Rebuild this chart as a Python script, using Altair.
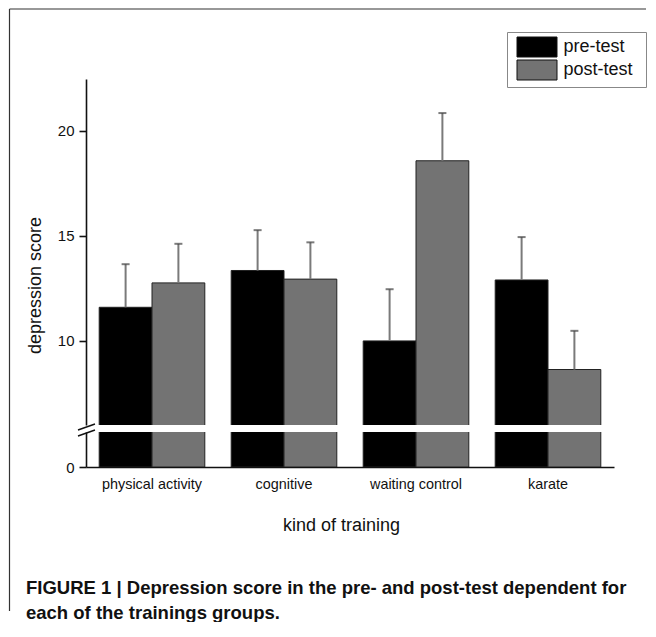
import altair as alt
import pandas as pd

# ---- data ----
groups = ["physical activity", "cognitive", "waiting control", "karate"]
tests = ["pre-test", "post-test"]
pre_means = [11.6, 13.35, 10.0, 12.9]
pre_err = [2.05, 1.92, 2.46, 2.04]
post_means = [12.76, 12.94, 18.57, 8.64]
post_err = [1.86, 1.75, 2.27, 1.84]
bar_colors = ["#000000", "#737373"]
upper_ticks = [10, 15, 20]
lower_ticks = [0]
caption_lines = [
    "FIGURE 1 | Depression score in the pre- and post-test dependent for",
    "each of the trainings groups.",
]

rows = []
for g, m, e in zip(groups, pre_means, pre_err):
    rows.append({"group": g, "test": "pre-test", "mean": m, "upper": m + e})
for g, m, e in zip(groups, post_means, post_err):
    rows.append({"group": g, "test": "post-test", "mean": m, "upper": m + e})
df = pd.DataFrame(rows)

FONT = "Liberation Sans"
W = 528
H_TOP = 346
H_BOT = 35
GAP = 7
AX = "#111111"

x_enc = alt.X("group:N", sort=groups,
              scale=alt.Scale(paddingInner=0.2, paddingOuter=0.1))
xoff = alt.XOffset("test:N", sort=tests,
                   scale=alt.Scale(domain=tests, paddingInner=0, paddingOuter=0))

legend = alt.Legend(
    orient="none", legendX=421, legendY=-47, title=None,
    symbolType="M-2,-1H2V1H-2Z", symbolSize=400, symbolOffset=15,
    symbolStrokeColor="#111111", symbolStrokeWidth=1, symbolOpacity=1,
    labelFont=FONT, labelFontSize=18, labelColor="#111111", labelOffset=16,
    labelExpr="datum.label + '\u00a0\u2009\u200b'",
    strokeColor="#888888", fillColor="white", padding=4.5, rowPadding=-3,
)
color_top = alt.Color("test:N", sort=tests,
                      scale=alt.Scale(domain=tests, range=bar_colors), legend=legend)
color_bot = alt.Color("test:N", sort=tests,
                      scale=alt.Scale(domain=tests, range=bar_colors), legend=None)

base = alt.Chart(df)

# ---------- upper panel (6 .. 22.46) ----------
y_top = alt.Y("mean:Q", scale=alt.Scale(domain=[6, 22.46], zero=False, nice=False),
              axis=alt.Axis(values=upper_ticks, grid=False, tickSize=7, tickWidth=1.6,
                            tickColor=AX, domainColor=AX, domainWidth=1.6,
                            labelFontSize=15, labelColor="#111111", labelPadding=5,
                            title="depression score", titleFontSize=18,
                            titleFontWeight="normal", titleColor="#111111",
                            titleX=-51, titleY=206, titleBaseline="middle",
                            titleAngle=-90, titleAlign="center"))

bars_top = base.mark_bar(clip=True, stroke="#222222", strokeWidth=1).encode(
    x=x_enc.axis(None), xOffset=xoff, y=y_top, y2=alt.datum(0), color=color_top)

err_stem = base.mark_rule(color="#7a7a7a", strokeWidth=2).encode(
    x=x_enc.axis(None), xOffset=xoff, y="mean:Q", y2="upper:Q")
err_cap = base.mark_tick(color="#444444", thickness=2, size=8).encode(
    x=x_enc.axis(None), xOffset=xoff, y="upper:Q")

one = pd.DataFrame({"k": [0]})
slash1 = alt.Chart(one).mark_rule(color=AX, strokeWidth=1.4).encode(
    x=alt.value(-8), x2=alt.value(9), y=alt.value(351), y2=alt.value(345))
slash2 = alt.Chart(one).mark_rule(color=AX, strokeWidth=1.4).encode(
    x=alt.value(-8), x2=alt.value(9), y=alt.value(357), y2=alt.value(351))

# outer frame of the figure: top edge and left edge
frame_top = alt.Chart(one).mark_rule(color="#333333", strokeWidth=1.2).encode(
    x=alt.value(-76.5), x2=alt.value(560), y=alt.value(-70), y2=alt.value(-70))
frame_left = alt.Chart(one).mark_rule(color="#333333", strokeWidth=1.2).encode(
    x=alt.value(-76.5), x2=alt.value(-76.5), y=alt.value(-70), y2=alt.value(532))

top = alt.layer(bars_top, err_stem, err_cap, slash1, slash2, frame_top, frame_left).properties(
    width=W, height=H_TOP)

# ---------- lower panel (0 ..) ----------
y_bot = alt.Y("mean:Q", scale=alt.Scale(domain=[0, 5], nice=False),
              axis=alt.Axis(values=lower_ticks, grid=False, tickSize=7, tickWidth=1.6,
                            tickColor=AX, domainColor=AX, domainWidth=1.6,
                            labelFontSize=15, labelColor="#111111", labelPadding=5,
                            title=None))
x_bot = x_enc.axis(alt.Axis(title="kind of training", labelAngle=0, ticks=False,
                            tickSize=0, labelFontSize=14.4, labelColor="#111111",
                            labelBaseline="alphabetic", labelPadding=21,
                            domainColor=AX, domainWidth=1.6,
                            titleFontSize=18, titleFontWeight="normal",
                            titleColor="#111111", titleX=255, titleY=63,
                            titleBaseline="alphabetic"))

bars_bot = base.mark_bar(clip=True, stroke="#222222", strokeWidth=1).encode(
    x=x_bot, xOffset=xoff, y=y_bot, color=color_bot)

cap1 = alt.Chart(pd.DataFrame({"t": [caption_lines[0]]})).mark_text(
    align="left", baseline="alphabetic", font=FONT, fontSize=18.5,
    fontWeight="bold", color="#111111").encode(
    x=alt.value(-60), y=alt.value(161.5), text="t:N")
cap2 = alt.Chart(pd.DataFrame({"t": [caption_lines[1]]})).mark_text(
    align="left", baseline="alphabetic", font=FONT, fontSize=18.5,
    fontWeight="bold", color="#111111").encode(
    x=alt.value(-60), y=alt.value(186.5), text="t:N")

bottom = alt.layer(bars_bot, cap1, cap2).properties(width=W, height=H_BOT)

chart = alt.vconcat(top, bottom, spacing=GAP, bounds="flush").resolve_scale(
    y="independent", x="shared", color="shared"
).resolve_legend(color="independent").properties(padding=0).configure(
    font=FONT
).configure_view(stroke=None)

chart.save("out.html", embed_options={"renderer": "svg", "actions": False})
